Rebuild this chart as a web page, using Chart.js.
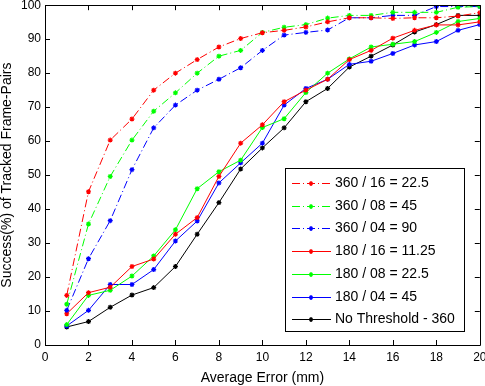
<!DOCTYPE html>
<html>
<head>
<meta charset="utf-8">
<script src="https://cdn.jsdelivr.net/npm/chart.js@4/dist/chart.umd.min.js"></script>
<style>
  html, body { margin: 0; padding: 0; background: #fff; }
  #wrap { width: 485px; height: 386px; position: relative; }
</style>
</head>
<body>
<div id="wrap"><canvas id="chart"></canvas></div>
<script>
const xValues = [1, 2, 3, 4, 5, 6, 7, 8, 9, 10, 11, 12, 13, 14, 15, 16, 17, 18, 19, 20];

const red360 = [14.6, 45.1, 60.3, 66.5, 75.0, 80.0, 84.0, 87.7, 90.2, 91.9, 92.6, 93.6, 95.1, 96.3, 96.3, 96.1, 96.3, 96.3, 96.8, 97.8];
const green360 = [12.0, 35.6, 49.6, 60.3, 68.8, 74.2, 80.0, 85.0, 86.7, 92.0, 93.5, 94.3, 96.2, 97.0, 97.0, 97.9, 97.9, 97.9, 99.4, 99.6];
const blue360 = [10.2, 25.4, 36.6, 51.6, 63.9, 70.6, 75.0, 78.2, 81.6, 86.7, 91.2, 92.0, 92.7, 96.3, 96.3, 97.0, 97.0, 99.6, 99.6, 99.6];
const red180 = [9.2, 15.4, 17.0, 23.1, 25.3, 32.6, 37.5, 49.6, 59.4, 64.8, 71.6, 75.0, 78.2, 84.0, 86.7, 90.3, 92.6, 94.2, 94.2, 95.1];
const green180 = [6.0, 14.6, 16.1, 20.3, 26.2, 33.9, 46.0, 51.0, 54.4, 64.0, 66.6, 74.3, 80.0, 84.2, 87.7, 88.5, 89.3, 92.0, 95.2, 96.1];
const blue180 = [5.6, 10.2, 17.8, 17.8, 22.2, 30.6, 36.5, 47.7, 53.6, 59.4, 70.6, 75.5, 78.2, 82.6, 83.5, 85.8, 88.3, 89.3, 92.6, 94.3];
const noThreshold = [5.3, 6.9, 11.1, 14.7, 16.9, 23.1, 32.6, 41.9, 51.8, 58.0, 63.9, 71.6, 75.5, 81.8, 85.0, 88.3, 92.1, 94.3, 97.0, 97.0];

const seriesLabels = ["360 / 16 = 22.5", "360 / 08 = 45", "360 / 04 = 90", "180 / 16 = 11.25", "180 / 08 = 22.5", "180 / 04 = 45", "No Threshold - 360"];
const seriesColors = ["#ff0000", "#00ff00", "#0000ff", "#ff0000", "#00ff00", "#0000ff", "#000000"];
const seriesData = [red360, green360, blue360, red180, green180, blue180, noThreshold];
const dashDot = [8, 3, 1, 3];

const FONT = "'Liberation Sans', Arial, sans-serif";

function makeSet(i) {
  const dashed = i < 3;
  return {
    label: seriesLabels[i],
    data: xValues.map((x, k) => ({ x: x, y: seriesData[i][k] })),
    borderColor: seriesColors[i],
    backgroundColor: seriesColors[i],
    borderWidth: 1,
    borderDash: dashed ? dashDot : [],
    pointStyle: "star",
    pointRadius: 2.5,
    pointBorderWidth: 1.2,
    pointBorderColor: seriesColors[i],
    tension: 0,
    fill: false
  };
}

// axes box with inward ticks on all four sides, plus the legend box
const axesBox = {
  id: "axesBox",
  afterDatasetsDraw(chart) {
    const c = chart.ctx;
    const a = chart.chartArea;
    const xs = chart.scales.x, ys = chart.scales.y;
    const len = 5;
    c.save();
    c.strokeStyle = "#000";
    c.lineWidth = 1;
    c.beginPath();
    c.rect(Math.round(a.left) + 0.5, Math.round(a.top) + 0.5, Math.round(a.right - a.left), Math.round(a.bottom - a.top));
    xs.ticks.forEach(t => {
      const px = Math.round(xs.getPixelForValue(t.value)) + 0.5;
      c.moveTo(px, a.bottom); c.lineTo(px, a.bottom - len);
      c.moveTo(px, a.top); c.lineTo(px, a.top + len);
    });
    ys.ticks.forEach(t => {
      const py = Math.round(ys.getPixelForValue(t.value)) + 0.5;
      c.moveTo(a.left, py); c.lineTo(a.left + len, py);
      c.moveTo(a.right, py); c.lineTo(a.right - len, py);
    });
    c.stroke();

    // legend
    const bx = 285.5, by = 168.5, bw = 179, bh = 163;
    c.fillStyle = "#fff";
    c.fillRect(bx, by, bw, bh);
    c.strokeRect(bx, by, bw, bh);
    c.font = "14px " + FONT;
    c.textBaseline = "middle";
    chart.data.datasets.forEach((ds, i) => {
      const y = Math.round(183 + i * 22.7) + 0.5;
      c.strokeStyle = ds.borderColor;
      c.setLineDash(ds.borderDash || []);
      c.beginPath();
      c.moveTo(292, y); c.lineTo(331, y);
      c.stroke();
      c.setLineDash([]);
      c.lineWidth = 1.2;
      c.beginPath();
      c.moveTo(311 - 2.5, y); c.lineTo(311 + 2.5, y);
      c.moveTo(311, y - 2.5); c.lineTo(311, y + 2.5);
      c.moveTo(309.5, y - 1.5); c.lineTo(312.5, y + 1.5);
      c.moveTo(309.5, y + 1.5); c.lineTo(312.5, y - 1.5);
      c.stroke();
      c.lineWidth = 1;
      c.fillStyle = "#000";
      c.fillText(ds.label, 335, y);
    });
    c.restore();
  }
};

const ctx = document.getElementById("chart").getContext("2d");
new Chart(ctx, {
  type: "line",
  data: { datasets: seriesData.map((_, i) => makeSet(i)) },
  options: {
    responsive: true,
    maintainAspectRatio: false,
    animation: false,
    layout: { padding: { top: 4, right: 5, left: 0, bottom: 0 } },
    plugins: { legend: { display: false }, tooltip: { enabled: false } },
    scales: {
      x: {
        type: "linear",
        min: 0,
        max: 20,
        ticks: { stepSize: 2, color: "#000", padding: 5, maxRotation: 0, font: { family: FONT, size: 12 } },
        grid: { drawOnChartArea: false, drawTicks: false },
        border: { display: false },
        title: { display: true, text: "Average Error (mm)", color: "#000", padding: { top: 0, bottom: 1 }, font: { family: FONT, size: 14, lineHeight: 1 } },
        afterFit(s) { s.height = 41; s.paddingLeft = 0; s.paddingRight = 0; }
      },
      y: {
        min: 0,
        max: 100,
        ticks: { stepSize: 10, color: "#000", padding: 4, font: { family: FONT, size: 12 } },
        grid: { drawOnChartArea: false, drawTicks: false },
        border: { display: false },
        title: { display: true, text: "Success(%) of Tracked Frame-Pairs", color: "#000", padding: 0, font: { family: FONT, size: 14, lineHeight: 1 } },
        afterFit(s) { s.width = 45; s.paddingTop = 0; s.paddingBottom = 0; }
      }
    }
  },
  plugins: [axesBox]
});
</script>
</body>
</html>
